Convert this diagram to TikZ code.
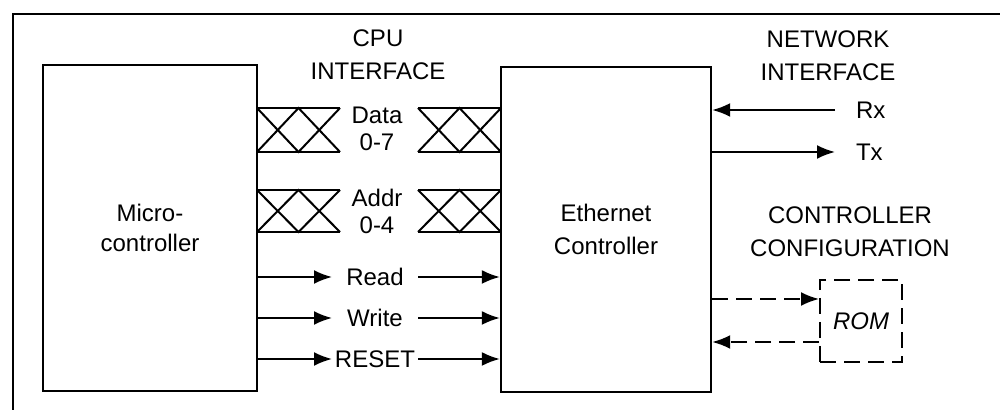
\documentclass[tikz,border=0pt]{standalone}
\usepackage{fontspec}
\setmainfont{Liberation Sans}
\usetikzlibrary{arrows.meta, positioning}

\tikzset{
    blk/.style={draw, line width=1.2pt},
    sig/.style={minimum width=42pt, inner sep=0pt},
    bus/.style={font=\fontsize{12}{13.5}\selectfont, align=center},
    dsh/.style={dash pattern=on 8pt off 4pt}
}

\begin{document}
\begin{tikzpicture}[x=0.5pt, y=-0.5pt, node distance=20.5pt, line width=1pt,
        >={Latex[length=9pt,width=7pt]}, font=\fontsize{12}{16.5}\selectfont]
        \useasboundingbox (0,0) rectangle (1000,410);

        % Frame
        \draw (13,410) -- (13,14) -- (1000,14);

        % Nodes
        \node (mcu) [blk, minimum width=107pt, minimum height=163pt, align=center,
            font=\fontsize{12}{15}\selectfont] at (150,228) {Micro-\\controller};
        \node (eth) [blk, minimum width=105pt, minimum height=162.5pt, align=center] at (606,229.5) {Ethernet\\Controller};
        \node (rom) [draw, dsh, minimum size=41pt, font=\fontsize{12}{15}\selectfont\itshape] at (861,321) {ROM};

        \node (cpuif) [align=center] at (378,55) {CPU\\INTERFACE};
        \node (netif) [align=center] at (828,56) {NETWORK\\INTERFACE};
        \node (cfg) [align=center] at (850,232) {CONTROLLER\\CONFIGURATION};

        \node (data) [bus] at (377,129) {Data\\0-7};
        \node (addr) [bus] at (377,211) {Addr\\0-4};

        \node (read) [sig] at (375,277) {Read};
        \node (write) [below of=read, sig] {Write};
        \node (reset) [below of=write, sig] {RESET};

        \node (rx) [anchor=west, inner xsep=10pt] at (835,110) {Rx};
        \node (tx) [anchor=west, inner xsep=10pt] at (835,152) {Tx};

        % Buses
        \foreach \t/\b in {108/152, 190/232}
            \foreach \a in {257, 418} {
                \draw (\a,\t) -- ++(83,0);
                \draw (\a,\b) -- ++(83,0);
                \draw (\a,\t) -- ({\a+41.5},\b) -- ({\a+83},\t);
                \draw (\a,\b) -- ({\a+41.5},\t) -- ({\a+83},\b);
            }

        % Arrows
        \foreach \s in {read, write, reset} {
            \draw[->] (mcu.east |- \s.west) -- (\s.west);
            \draw[->] (\s.east) -- (eth.west |- \s.east);
        }

        \draw[->] (rx.west) -- (eth.east |- rx.west);
        \draw[->] (eth.east |- tx.west) -- (tx.west);

        \draw[->, dsh] ([yshift=11pt]rom.west -| eth.east) -- ([yshift=11pt]rom.west);
        \draw[->, dsh] ([yshift=-10.5pt]rom.west) -- ([yshift=-10.5pt]rom.west -| eth.east);

    \end{tikzpicture}
\end{document}
